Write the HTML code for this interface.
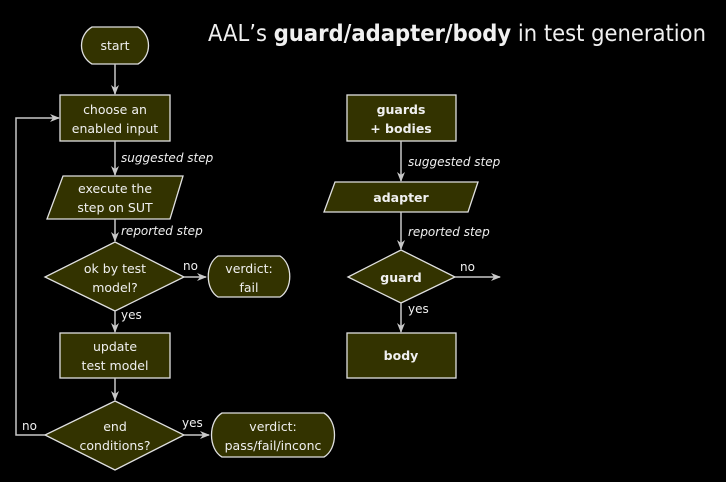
<!DOCTYPE html>
<html><head><meta charset="utf-8"><style>
html,body{margin:0;padding:0;background:#000;}
svg{display:block;}
text{font-family:"DejaVu Sans","Liberation Sans",sans-serif;fill:#f0f0f0;}
</style></head><body>
<svg width="726" height="482" viewBox="0 0 726 482" xmlns="http://www.w3.org/2000/svg">
<defs><marker id="a" markerWidth="10" markerHeight="8" refX="9" refY="4" orient="auto" markerUnits="userSpaceOnUse"><path d="M0,0 L10,4 L0,8 L3,4 Z" fill="#c8c8c8"/></marker></defs>
<text x="208" y="41" font-size="23" style="font-family:'DejaVu Sans',sans-serif" textLength="498" lengthAdjust="spacingAndGlyphs">AAL’s <tspan font-weight="bold">guard/adapter/body</tspan> in test generation</text>
<g fill="#333300" stroke="#e0e0e0" stroke-width="1.3">
<path d="M92,27 H138 C152,35 152,56 138,64 H92 C78,56 78,35 92,27 Z"/>
<rect x="60" y="95" width="110" height="46"/>
<polygon points="63,176 183,176 170,219 47,219"/>
<polygon points="115,242 184,277 115,311 45,277"/>
<path d="M218,256 H280 C293,264 293,289 280,297 H218 C205,289 205,264 218,256 Z"/>
<rect x="60" y="333" width="110" height="45"/>
<polygon points="115,401 184,435 115,470 45,435"/>
<path d="M222,413 H324 C338,421 338,449 324,457 H222 C208,449 208,421 222,413 Z"/>
<rect x="347" y="95" width="109" height="46"/>
<polygon points="335,182 478,182 468,212 324,212"/>
<polygon points="401,250 455,277 401,303 348,277"/>
<rect x="347" y="333" width="109" height="45"/>
</g>
<g stroke="#c8c8c8" stroke-width="1.5" fill="none" marker-end="url(#a)">
<line x1="115" y1="64" x2="115" y2="94"/>
<line x1="115" y1="141" x2="115" y2="175"/>
<line x1="115" y1="219" x2="115" y2="241"/>
<line x1="184" y1="277" x2="206" y2="277"/>
<line x1="115" y1="311" x2="115" y2="332"/>
<line x1="115" y1="378" x2="115" y2="400"/>
<line x1="184" y1="435" x2="209" y2="435"/>
<polyline points="45,435 16,435 16,118 59,118"/>
<line x1="401" y1="141" x2="401" y2="181"/>
<line x1="401" y1="212" x2="401" y2="249"/>
<line x1="455" y1="277" x2="500" y2="277"/>
<line x1="401" y1="303" x2="401" y2="332"/>
</g>
<g font-size="12.5" text-anchor="middle">
<text x="115" y="50">start</text>
<text x="115" y="114">choose an</text><text x="115" y="133">enabled input</text>
<text x="115" y="193">execute the</text><text x="115" y="212">step on SUT</text>
<text x="115" y="273">ok by test</text><text x="115" y="292">model?</text>
<text x="249" y="273">verdict:</text><text x="249" y="292">fail</text>
<text x="115" y="351">update</text><text x="115" y="370">test model</text>
<text x="115" y="431">end</text><text x="115" y="450">conditions?</text>
<text x="273" y="431">verdict:</text><text x="273" y="450">pass/fail/inconc</text>
<g font-weight="bold"><text x="401" y="114">guards</text><text x="401" y="133">+ bodies</text>
<text x="401" y="202">adapter</text><text x="401" y="282">guard</text><text x="401" y="360">body</text></g>
</g>
<g font-size="12" fill="#ccc">
<text x="121" y="162" font-style="italic">suggested step</text>
<text x="121" y="235" font-style="italic">reported step</text>
<text x="408" y="166" font-style="italic">suggested step</text>
<text x="408" y="236" font-style="italic">reported step</text>
<text x="183" y="270">no</text><text x="121" y="319">yes</text>
<text x="22" y="430">no</text><text x="182" y="427">yes</text>
<text x="460" y="271">no</text><text x="408" y="313">yes</text>
</g>
</svg>
</body></html>
